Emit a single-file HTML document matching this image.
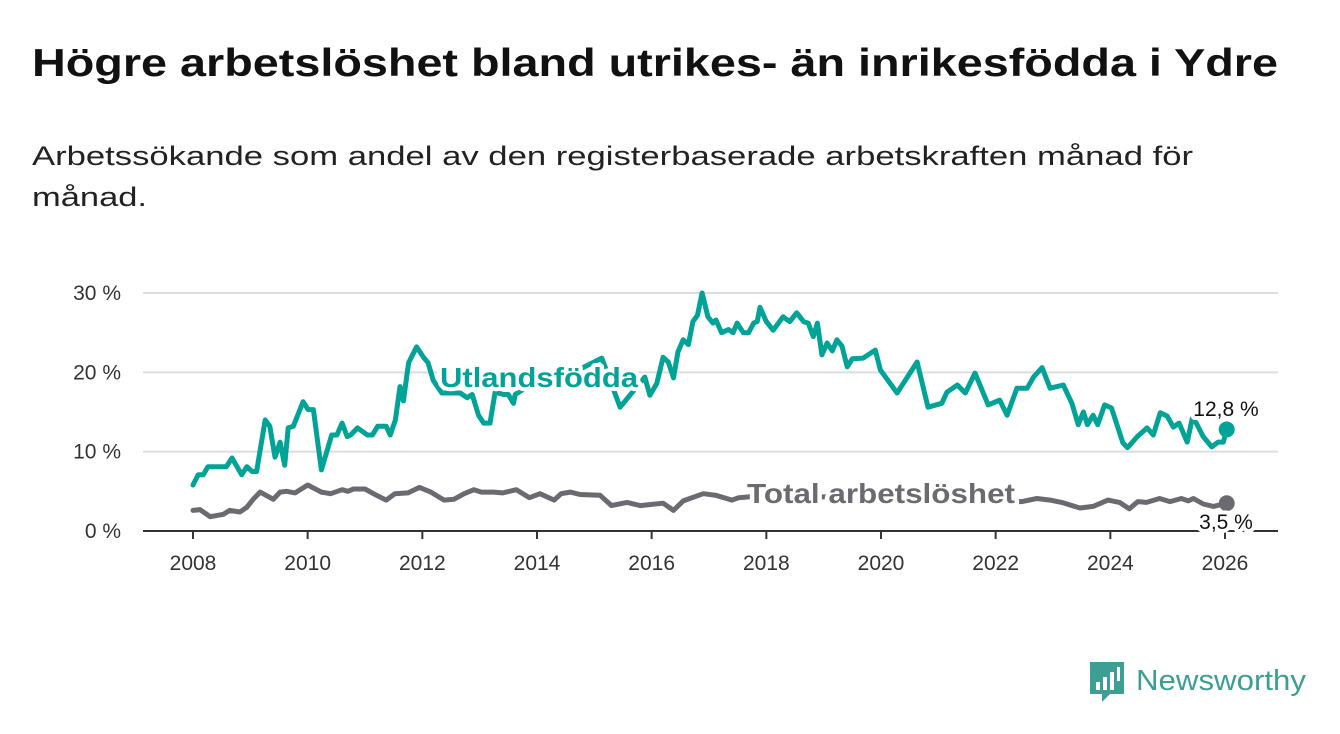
<!DOCTYPE html>
<html><head><meta charset="utf-8">
<style>
body{margin:0;width:1340px;height:734px;background:#fff;font-family:"Liberation Sans",sans-serif;overflow:hidden}
svg{position:absolute;left:0;top:0}
</style></head><body>
<svg width="1340" height="734">
 <text x="32" y="76" font-size="39" font-weight="bold" fill="#111" textLength="1246" lengthAdjust="spacingAndGlyphs" font-family="Liberation Sans,sans-serif">Högre arbetslöshet bland utrikes- än inrikesfödda i Ydre</text>
 <text x="32" y="165" font-size="27" fill="#222" textLength="1161" lengthAdjust="spacingAndGlyphs" font-family="Liberation Sans,sans-serif">Arbetssökande som andel av den registerbaserade arbetskraften månad för</text>
 <text x="32" y="206" font-size="27" fill="#222" textLength="115" lengthAdjust="spacingAndGlyphs" font-family="Liberation Sans,sans-serif">månad.</text>
</svg>
<svg id="chart" width="1340" height="734"></svg>
<script>
const yTicks=[0,10,20,30];
const xTicks=[2008,2010,2012,2014,2016,2018,2020,2022,2024,2026];
const foreignDates=[2008.0,2008.09,2008.18,2008.26,2008.58,2008.68,2008.85,2008.94,2009.03,2009.11,2009.26,2009.34,2009.43,2009.52,2009.6,2009.66,2009.75,2009.92,2010.01,2010.1,2010.24,2010.42,2010.51,2010.6,2010.69,2010.75,2010.87,2011.04,2011.13,2011.22,2011.37,2011.44,2011.53,2011.61,2011.67,2011.76,2011.9,2012.02,2012.1,2012.19,2012.34,2012.66,2012.78,2012.87,2012.98,2013.07,2013.18,2013.27,2013.42,2013.5,2013.59,2013.62,2014.0,2014.5,2015.13,2015.45,2015.88,2015.97,2016.09,2016.2,2016.29,2016.38,2016.46,2016.55,2016.64,2016.72,2016.8,2016.88,2016.98,2017.07,2017.12,2017.22,2017.34,2017.42,2017.49,2017.6,2017.69,2017.78,2017.84,2017.89,2018.0,2018.12,2018.29,2018.41,2018.53,2018.65,2018.73,2018.82,2018.89,2018.97,2019.06,2019.15,2019.23,2019.32,2019.41,2019.5,2019.69,2019.9,2019.99,2020.28,2020.63,2020.82,2021.06,2021.15,2021.33,2021.47,2021.64,2021.87,2022.07,2022.2,2022.37,2022.55,2022.66,2022.81,2022.95,2023.18,2023.33,2023.44,2023.53,2023.6,2023.7,2023.78,2023.9,2024.02,2024.22,2024.3,2024.47,2024.64,2024.75,2024.87,2024.99,2025.1,2025.2,2025.34,2025.43,2025.5,2025.62,2025.77,2025.88,2025.97,2026.03];
const foreignValues=[5.8,7.1,7.1,8.1,8.1,9.2,7.1,8.1,7.5,7.5,14,13.2,9.3,11.2,8.3,13,13.2,16.3,15.3,15.3,7.7,12.1,12.1,13.6,11.9,12.1,13,12.1,12.1,13.2,13.2,12.1,14,18.2,16.4,21.2,23.2,21.9,21.2,19,17.4,17.4,16.8,17.2,14.6,13.6,13.6,17.5,17.2,17.2,16.1,17.2,19,19.5,21.8,15.6,19.4,17.1,18.6,21.9,21.3,19.3,22.6,24.1,23.5,26.4,27.2,30,27,26.2,26.6,25,25.4,25,26.2,25,25,26.2,26.4,28.2,26.4,25.3,27,26.4,27.5,26.4,26.2,24.5,26.2,22.2,23.7,22.7,24.1,23.3,20.7,21.7,21.8,22.8,20.3,17.4,21.3,15.6,16.1,17.5,18.4,17.4,19.9,15.9,16.5,14.6,18,18,19.4,20.6,18,18.4,16.1,13.4,15,13.4,14.6,13.4,15.9,15.5,11.1,10.5,11.9,13,12.1,14.9,14.5,13.1,13.6,11.2,14.2,13.6,11.9,10.6,11.2,11.2,12.8];
const totalDates=[2008.0,2008.12,2008.3,2008.53,2008.64,2008.82,2008.94,2009.05,2009.17,2009.4,2009.52,2009.63,2009.78,2010.0,2010.24,2010.4,2010.6,2010.7,2010.8,2011.0,2011.2,2011.37,2011.52,2011.75,2011.95,2012.15,2012.38,2012.55,2012.73,2012.9,2013.03,2013.24,2013.4,2013.64,2013.87,2014.05,2014.3,2014.42,2014.58,2014.75,2015.1,2015.3,2015.57,2015.8,2016.2,2016.38,2016.55,2016.9,2017.12,2017.4,2017.52,2018.0,2019.0,2020.3,2021.0,2022.0,2022.46,2022.72,2022.95,2023.15,2023.47,2023.7,2023.96,2024.16,2024.33,2024.48,2024.63,2024.86,2025.04,2025.24,2025.36,2025.45,2025.62,2025.8,2026.03];
const totalValues=[2.6,2.7,1.8,2.1,2.6,2.4,3.0,4.0,4.9,4.0,4.9,5.0,4.8,5.8,4.9,4.7,5.2,5.0,5.3,5.3,4.5,3.9,4.7,4.8,5.5,4.9,3.9,4.0,4.7,5.2,4.9,4.9,4.8,5.2,4.2,4.7,3.9,4.7,4.9,4.6,4.5,3.2,3.6,3.2,3.5,2.6,3.8,4.7,4.5,3.9,4.2,4.5,4.3,5.0,4.5,3.8,3.7,4.1,3.9,3.6,2.9,3.1,3.9,3.6,2.8,3.7,3.6,4.1,3.7,4.1,3.8,4.1,3.4,3.1,3.5];
const NS="http://www.w3.org/2000/svg";
const svg=document.getElementById('chart');
const X=y=>193+(y-2008)*(1225-193)/18;
const Y=v=>531-v*(531-293)/30;
function mk(t,a,p){const e=document.createElementNS(NS,t);for(const k in a)e.setAttribute(k,a[k]);(p||svg).appendChild(e);return e;}
yTicks.forEach(v=>{
 const g=mk('line',{x1:143,x2:1278,y1:Y(v),y2:Y(v),stroke:v===0?'#333':'#ddd','stroke-width':2});
 
 
 const t=mk('text',{x:121,y:Y(v)+7,'text-anchor':'end','font-size':21,fill:'#333','font-family':'Liberation Sans,sans-serif'});
 t.textContent=v+' %';
 
 
});
xTicks.forEach(yr=>{
 const l=mk('line',{x1:X(yr),x2:X(yr),y1:531,y2:539,stroke:'#333','stroke-width':2});
 
 
 const t=mk('text',{x:X(yr),y:570,'text-anchor':'middle','font-size':21,fill:'#333','font-family':'Liberation Sans,sans-serif'});
 t.textContent=yr;
 
 
});
function line(d,v,c,name){
 const pts=d.map((x,i)=>X(x).toFixed(1)+','+Y(v[i]).toFixed(1)).join(' ');
 const p=mk('polyline',{points:pts,fill:'none',stroke:c,'stroke-width':5,'stroke-linejoin':'round','stroke-linecap':'round'});
 
 
 const n=d.length-1;
 const c2=mk('circle',{cx:X(d[n]),cy:Y(v[n]),r:8,fill:c});
 
 
}
line(totalDates,totalValues,'#6b6a70','total');
line(foreignDates,foreignValues,'#00a396','foreign');
function label(txt,x,y,size,c,w,anchor,name,len){
 const a={x:x,y:y,'font-size':size,'font-weight':w,fill:c,stroke:'#fff','stroke-width':8,'paint-order':'stroke','stroke-linejoin':'round','text-anchor':anchor,'font-family':'Liberation Sans,sans-serif'};
 if(len){a.textLength=len;a.lengthAdjust='spacingAndGlyphs';}
 const t=mk('text',a);
 t.textContent=txt;
 
 
}
label('Utlandsfödda',440,387,28,'#00a396','bold','start','foreign-series-label',198);
label('Total arbetslöshet',747,503,28,'#6b6a70','bold','start','total-series-label',268);
const last=foreignValues.length-1, lastT=totalValues.length-1;
label(foreignValues[last].toFixed(1).replace('.',',')+' %',1226,416,21,'#111','normal','middle','foreign-value-label');
label(totalValues[lastT].toFixed(1).replace('.',',')+' %',1226,529,21,'#111','normal','middle','total-value-label');
</script>
<svg width="1340" height="734" style="pointer-events:none">
 <path d="M1090 662 h34 v32 h-14 l-8 8 l0 -8 h-12 z" fill="#3d9e94"/>
 <rect x="1096" y="682" width="4" height="8" fill="#fff"/>
 <rect x="1103" y="677" width="4" height="13" fill="#fff"/>
 <rect x="1110" y="672" width="4" height="18" fill="#fff"/>
 <rect x="1117" y="667" width="3" height="14" fill="#fff"/>
 <text x="1136" y="690" font-size="29" fill="#3d9e94" textLength="170" lengthAdjust="spacingAndGlyphs" font-family="Liberation Sans,sans-serif">Newsworthy</text>
</svg>
</body></html>
